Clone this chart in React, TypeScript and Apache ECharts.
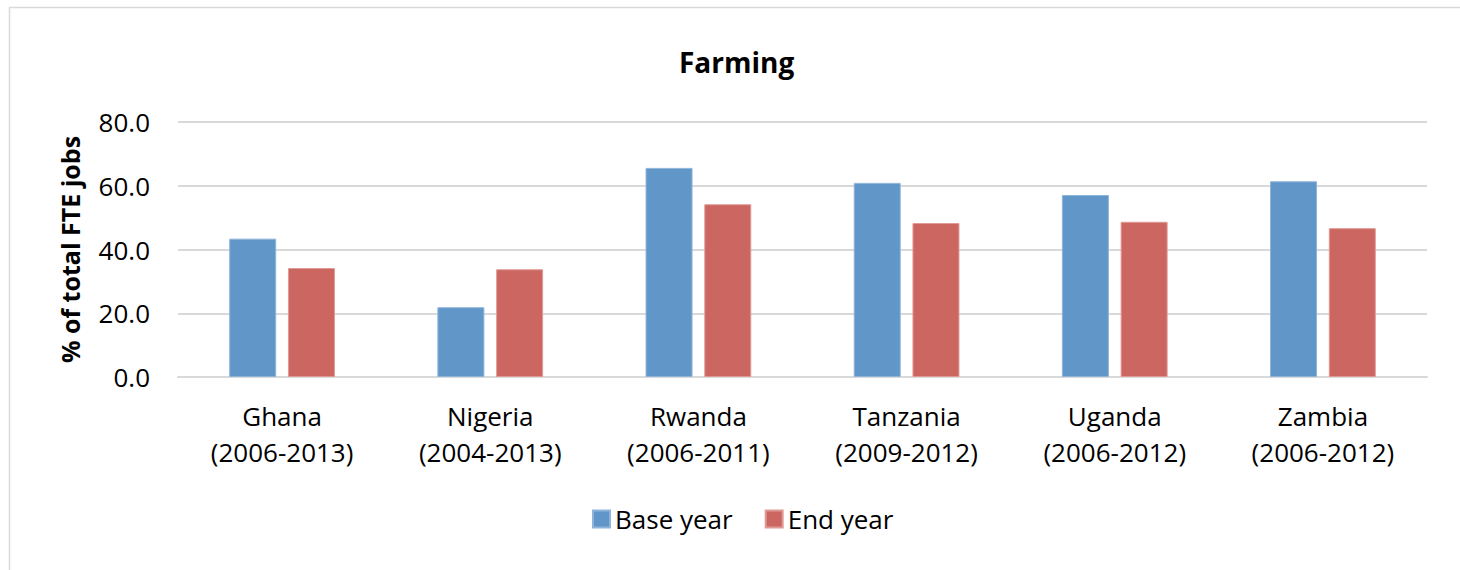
import React, { useEffect, useRef } from "react";
import * as echarts from "echarts";

const categories = [
  "Ghana\n(2006-2013)",
  "Nigeria\n(2004-2013)",
  "Rwanda\n(2006-2011)",
  "Tanzania\n(2009-2012)",
  "Uganda\n(2006-2012)",
  "Zambia\n(2006-2012)",
];
const baseYear = [43.4, 21.9, 65.6, 60.9, 57.1, 61.4];
const endYear = [34.2, 33.8, 54.2, 48.3, 48.7, 46.7];
const yTicks = [0, 20, 40, 60, 80];

const FONT = "'Open Sans', 'Liberation Sans', sans-serif";
const GRID_GRAY = "#d9d9d9";

export default function App() {
  const ref = useRef<HTMLDivElement>(null);

  useEffect(() => {
    document.body.style.margin = "0";
    if (!ref.current) return;
    const chart = echarts.init(ref.current, null, { renderer: "svg" });
    chart.setOption({
      animation: false,
      backgroundColor: "#ffffff",
      textStyle: { fontFamily: FONT },
      title: {
        text: "Farming",
        left: 674,
        top: 43,
        textStyle: { fontFamily: FONT, fontSize: 28, fontWeight: "bold", color: "#000" },
      },
      legend: {
        data: ["Base year", "End year"],
        left: 587,
        top: 501,
        icon: "rect",
        itemWidth: 17,
        itemHeight: 17,
        itemGap: 32,
        textStyle: { fontFamily: FONT, fontSize: 26, color: "#000" },
      },
      grid: { left: 178, right: 33, top: 122, bottom: 193 },
      xAxis: {
        type: "category",
        data: categories,
        axisLine: { show: true, lineStyle: { color: GRID_GRAY, width: 2 } },
        axisTick: { show: false },
        axisLabel: {
          margin: 21,
          fontFamily: FONT,
          fontSize: 26,
          lineHeight: 36,
          color: "#000",
          interval: 0,
        },
      },
      yAxis: {
        type: "value",
        min: yTicks[0],
        max: yTicks[yTicks.length - 1],
        interval: 20,
        name: "% of total FTE jobs",
        nameLocation: "middle",
        nameGap: 96,
        nameTextStyle: { fontFamily: FONT, fontSize: 25, fontWeight: "bold", color: "#000" },
        axisLine: { show: false },
        axisTick: { show: false },
        splitLine: { lineStyle: { color: GRID_GRAY, width: 2 } },
        axisLabel: {
          margin: 28,
          fontFamily: FONT,
          fontSize: 26,
          color: "#000",
          formatter: (v: number) => v.toFixed(1),
        },
      },
      series: [
        {
          name: "Base year",
          type: "bar",
          data: baseYear,
          barWidth: 47,
          barGap: "25%",
          itemStyle: { color: "#6196c8", borderColor: "#8fb4da", borderWidth: 1 },
        },
        {
          name: "End year",
          type: "bar",
          data: endYear,
          barWidth: 47,
          barGap: "25%",
          itemStyle: { color: "#cc6660", borderColor: "#e09a96", borderWidth: 1 },
        },
      ],
      graphic: [
        {
          type: "polyline",
          silent: true,
          shape: { points: [[9.5, 570], [9.5, 7.5], [1460, 7.5]] },
          style: { stroke: GRID_GRAY, lineWidth: 1.5, fill: "none" },
        },
      ],
    });
    return () => chart.dispose();
  }, []);

  return <div ref={ref} style={{ width: 1460, height: 570 }} />;
}
